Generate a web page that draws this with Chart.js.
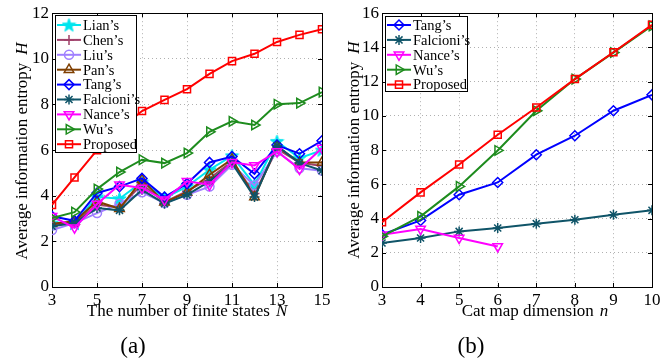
<!DOCTYPE html>
<html><head><meta charset="utf-8">
<script src="https://cdn.jsdelivr.net/npm/chart.js@4/dist/chart.umd.min.js"></script>
<style>
html,body{margin:0;padding:0;background:#fff;}
#wrap{position:relative;width:670px;height:364px;}
.c{position:absolute;top:0;}
</style></head>
<body><div id="wrap">
<div class="c" style="left:0;width:335px;height:364px;"><canvas id="ca"></canvas></div>
<div class="c" style="left:335px;width:335px;height:364px;"><canvas id="cb"></canvas></div>
</div>
<script>
// ---- Data (a) ----
const N_STATES = [3,4,5,6,7,8,9,10,11,12,13,14,15];
const X_TICKS_A = [3,5,7,9,11,13,15];
const Y_TICKS_A = [0,2,4,6,8,10,12];
const lianA      = [2.80,2.78,3.95,3.87,4.60,3.90,4.40,5.14,5.75,4.48,6.38,5.65,6.00];
const chenA      = [2.72,2.80,3.60,3.50,4.50,3.72,4.20,4.75,5.50,4.10,6.05,5.45,5.30];
const liuA       = [2.50,2.80,3.24,3.65,4.15,3.68,4.04,4.40,5.36,4.45,5.94,5.20,5.10];
const panA       = [2.77,2.88,3.75,3.43,4.70,3.71,4.15,4.92,5.60,3.94,6.16,5.46,5.46];
const tangA      = [3.10,2.90,4.12,4.40,4.76,3.94,4.53,5.46,5.72,4.96,6.22,5.84,6.41];
const falcioniA  = [2.66,2.80,3.46,3.36,4.26,3.65,4.04,4.63,5.43,3.94,6.19,5.43,5.10];
const nanceA     = [3.10,2.60,3.64,4.48,4.34,3.82,4.63,4.48,5.47,5.33,5.94,5.17,6.09];
const wuA        = [3.02,3.28,4.29,5.04,5.58,5.43,5.87,6.80,7.26,7.10,8.01,8.06,8.54];
const proposedA  = [3.60,4.80,6.00,6.90,7.71,8.20,8.67,9.34,9.90,10.22,10.74,11.05,11.30];
// ---- Data (b) ----
const DIMS = [3,4,5,6,7,8,9,10];
const Y_TICKS_B = [0,2,4,6,8,10,12,14,16];
const tangB      = [3.06,3.89,5.39,6.11,7.73,8.84,10.30,11.23];
const falcioniB  = [2.57,2.86,3.25,3.45,3.70,3.93,4.22,4.48];
const nanceB     = [3.06,3.39,2.86,2.37,null,null,null,null];
const wuB        = [2.96,4.13,5.88,7.98,10.30,12.15,13.70,15.26];
const proposedB  = [3.78,5.53,7.16,8.90,10.49,12.15,13.72,15.32];

const FONT = '"Liberation Serif","Times New Roman",serif';
const COLORS = {
  lian:'#00e5ee', chen:'#a0406a', liu:'#a07fff', pan:'#7f3f00', tang:'#0000ff',
  falcioni:'#0f5468', nance:'#ff00ff', wu:'#1e8c1e', proposed:'#ff0000'
};

function pentagram(color){
  const c=document.createElement('canvas'); c.width=15; c.height=15;
  const g=c.getContext('2d'); g.beginPath();
  for(let i=0;i<10;i++){
    const r = i%2===0 ? 7 : 2.9;
    const a = -Math.PI/2 + i*Math.PI/5;
    const x=7.5+r*Math.cos(a), y=8+r*Math.sin(a);
    i===0?g.moveTo(x,y):g.lineTo(x,y);
  }
  g.closePath(); g.fillStyle=color; g.fill(); g.strokeStyle=color; g.lineWidth=1; g.stroke();
  return c;
}

function ds(label, xs, ys, color, style, rot, radius){
  return {
    label, data: xs.map((x,i)=>({x, y: ys[i]})),
    borderColor: color, backgroundColor: color,
    pointBorderColor: color, pointBackgroundColor: 'rgba(0,0,0,0)',
    pointStyle: style, rotation: rot||0, pointRadius: radius||5, pointBorderWidth: 1.5,
    borderWidth: 2, tension: 0, spanGaps: false, pointHoverRadius: radius||5
  };
}

function drawMarker(ctx, d, x, y){
  ctx.save();
  ctx.strokeStyle = d.pointBorderColor; ctx.fillStyle = 'rgba(0,0,0,0)';
  ctx.lineWidth = d.pointBorderWidth;
  if (Chart.helpers && Chart.helpers.drawPoint){
    Chart.helpers.drawPoint(ctx, {pointStyle: d.pointStyle, rotation: d.rotation, radius: d.pointRadius, borderWidth: d.pointBorderWidth}, x, y);
  }
  ctx.restore();
}

function makePlugin(cfg){
  return {
    id:'deco',
    beforeDatasetsDraw(chart){
      const ctx=chart.ctx, a=chart.chartArea, xs=chart.scales.x, ys=chart.scales.y;
      ctx.save();
      ctx.strokeStyle='#000'; ctx.lineWidth=1;
      ctx.strokeRect(Math.round(a.left)+0.5, Math.round(a.top)+0.5, Math.round(a.right-a.left), Math.round(a.bottom-a.top));
      ctx.beginPath();
      xs.ticks.forEach(t=>{ const p=Math.round(xs.getPixelForValue(t.value))+0.5;
        ctx.moveTo(p,a.bottom); ctx.lineTo(p,a.bottom-4); ctx.moveTo(p,a.top); ctx.lineTo(p,a.top+4); });
      ys.ticks.forEach(t=>{ const p=Math.round(ys.getPixelForValue(t.value))+0.5;
        ctx.moveTo(a.left,p); ctx.lineTo(a.left+4,p); ctx.moveTo(a.right,p); ctx.lineTo(a.right-4,p); });
      ctx.stroke();
      ctx.restore();
    },
    afterDraw(chart){
      const ctx=chart.ctx, L=cfg.legend;
      ctx.save();
      // legend
      ctx.fillStyle='#fff';
      ctx.fillRect(L.x, L.y, L.w, L.h);
      ctx.strokeStyle='#000'; ctx.lineWidth=1;
      ctx.strokeRect(L.x+0.5, L.y+0.5, L.w, L.h);
      ctx.font = '14.5px '+FONT; ctx.textBaseline='middle'; ctx.textAlign='left';
      chart.data.datasets.forEach((d,i)=>{
        const y = L.y + L.first + i*L.step;
        ctx.strokeStyle=d.borderColor; ctx.lineWidth=2;
        ctx.beginPath(); ctx.moveTo(L.x+2, y); ctx.lineTo(L.x+26, y); ctx.stroke();
        drawMarker(ctx, d, L.x+14, y);
        ctx.fillStyle='#000';
        ctx.fillText(d.label, L.x+28, y+1);
      });
      // y title
      const yt = cfg.ytitle;
      ctx.save();
      ctx.translate(yt.x, yt.y); ctx.rotate(-Math.PI/2);
      ctx.font='17px '+FONT; const w1=ctx.measureText(yt.text).width;
      ctx.font='italic 17px '+FONT; const w2=ctx.measureText(yt.it).width;
      const gap=8, tot=w1+gap+w2; ctx.textBaseline='middle'; ctx.fillStyle='#000';
      ctx.font='17px '+FONT; ctx.fillText(yt.text, -tot/2, 0);
      ctx.font='italic 17px '+FONT; ctx.fillText(yt.it, -tot/2+w1+gap, 0);
      ctx.restore();
      // x title
      const xt=cfg.xtitle;
      ctx.font='17px '+FONT; const v1=ctx.measureText(xt.text).width;
      ctx.font='italic 17px '+FONT; const v2=ctx.measureText(xt.it).width;
      const tt=v1+6+v2; ctx.textBaseline='middle'; ctx.fillStyle='#000';
      ctx.font='17px '+FONT; ctx.fillText(xt.text, xt.x-tt/2, xt.y);
      ctx.font='italic 17px '+FONT; ctx.fillText(xt.it, xt.x-tt/2+v1+6, xt.y);
      // panel label
      ctx.font='23px '+FONT; ctx.textAlign='center';
      ctx.fillText(cfg.panel.text, cfg.panel.x, cfg.panel.y);
      ctx.restore();
    }
  };
}

function scaleOpts(min,max,ticks,width,height,isX){
  return {
    type:'linear', min, max,
    afterBuildTicks: s => { s.ticks = ticks.map(v=>({value:v})); },
    afterFit: s => { if(isX) s.height=height; else s.width=width; },
    grid:{ color:'#b0b0b0', lineWidth:1, drawTicks:false },
    border:{ display:false, dash:[1,3] },
    ticks:{ color:'#000', font:{family:FONT, size:17}, padding: isX?3:3, maxRotation:0, autoSkip:false }
  };
}

function makeChart(id, datasets, xmin, xmax, xticks, ymax, yticks, pad, yw, cfg){
  return new Chart(document.getElementById(id), {
    type:'line',
    data:{ datasets },
    options:{
      responsive:false, animation:false, devicePixelRatio:1,
      layout:{ padding: pad },
      plugins:{ legend:{display:false}, tooltip:{enabled:false} },
      scales:{
        x: scaleOpts(xmin,xmax,xticks,0,77,true),
        y: scaleOpts(0,ymax,yticks,yw,0,false)
      }
    },
    plugins:[makePlugin(cfg)]
  });
}

['ca','cb'].forEach(id=>{ const c=document.getElementById(id); c.width=335; c.height=364; c.style.width='335px'; c.style.height='364px'; });

const dsA = [
  ds("Lian’s", N_STATES, lianA, COLORS.lian, pentagram(COLORS.lian), 0, 5),
  ds("Chen’s", N_STATES, chenA, COLORS.chen, 'cross', 0, 5),
  ds("Liu’s", N_STATES, liuA, COLORS.liu, 'circle', 0, 4.5),
  ds("Pan’s", N_STATES, panA, COLORS.pan, 'triangle', 0, 5.5),
  ds("Tang’s", N_STATES, tangA, COLORS.tang, 'rectRot', 0, 5),
  ds("Falcioni’s", N_STATES, falcioniA, COLORS.falcioni, 'star', 0, 5),
  ds("Nance’s", N_STATES, nanceA, COLORS.nance, 'triangle', 180, 5.5),
  ds("Wu’s", N_STATES, wuA, COLORS.wu, 'triangle', 90, 5.5),
  ds("Proposed", N_STATES, proposedA, COLORS.proposed, 'rect', 0, 5)
];
dsA.forEach((d,i)=>{ d.order = dsA.length - i; });

const dsB = [
  ds("Tang’s", DIMS, tangB, COLORS.tang, 'rectRot', 0, 5),
  ds("Falcioni’s", DIMS, falcioniB, COLORS.falcioni, 'star', 0, 5),
  ds("Nance’s", DIMS, nanceB, COLORS.nance, 'triangle', 180, 5.5),
  ds("Wu’s", DIMS, wuB, COLORS.wu, 'triangle', 90, 5.5),
  ds("Proposed", DIMS, proposedB, COLORS.proposed, 'rect', 0, 5)
];
dsB.forEach((d,i)=>{ d.order = dsB.length - i; });

makeChart('ca', dsA, 3, 15, X_TICKS_A, 12, Y_TICKS_A, {left:0, right:13, top:13, bottom:0}, 52, {
  legend:{x:55, y:15, w:81, h:137, first:10, step:14.9},
  ytitle:{x:23, y:151, text:'Average information entropy', it:'H'},
  xtitle:{x:187, y:312, text:'The number of finite states', it:'N'},
  panel:{text:'(a)', x:133, y:347}
});
makeChart('cb', dsB, 3, 10, DIMS, 16, Y_TICKS_B, {left:0, right:18, top:13, bottom:0}, 47, {
  legend:{x:50, y:16, w:82, h:75, first:9, step:14.9},
  ytitle:{x:20, y:150, text:'Average information entropy', it:'H'},
  xtitle:{x:200, y:312, text:'Cat map dimension', it:'n'},
  panel:{text:'(b)', x:136, y:347}
});
</script></body></html>
